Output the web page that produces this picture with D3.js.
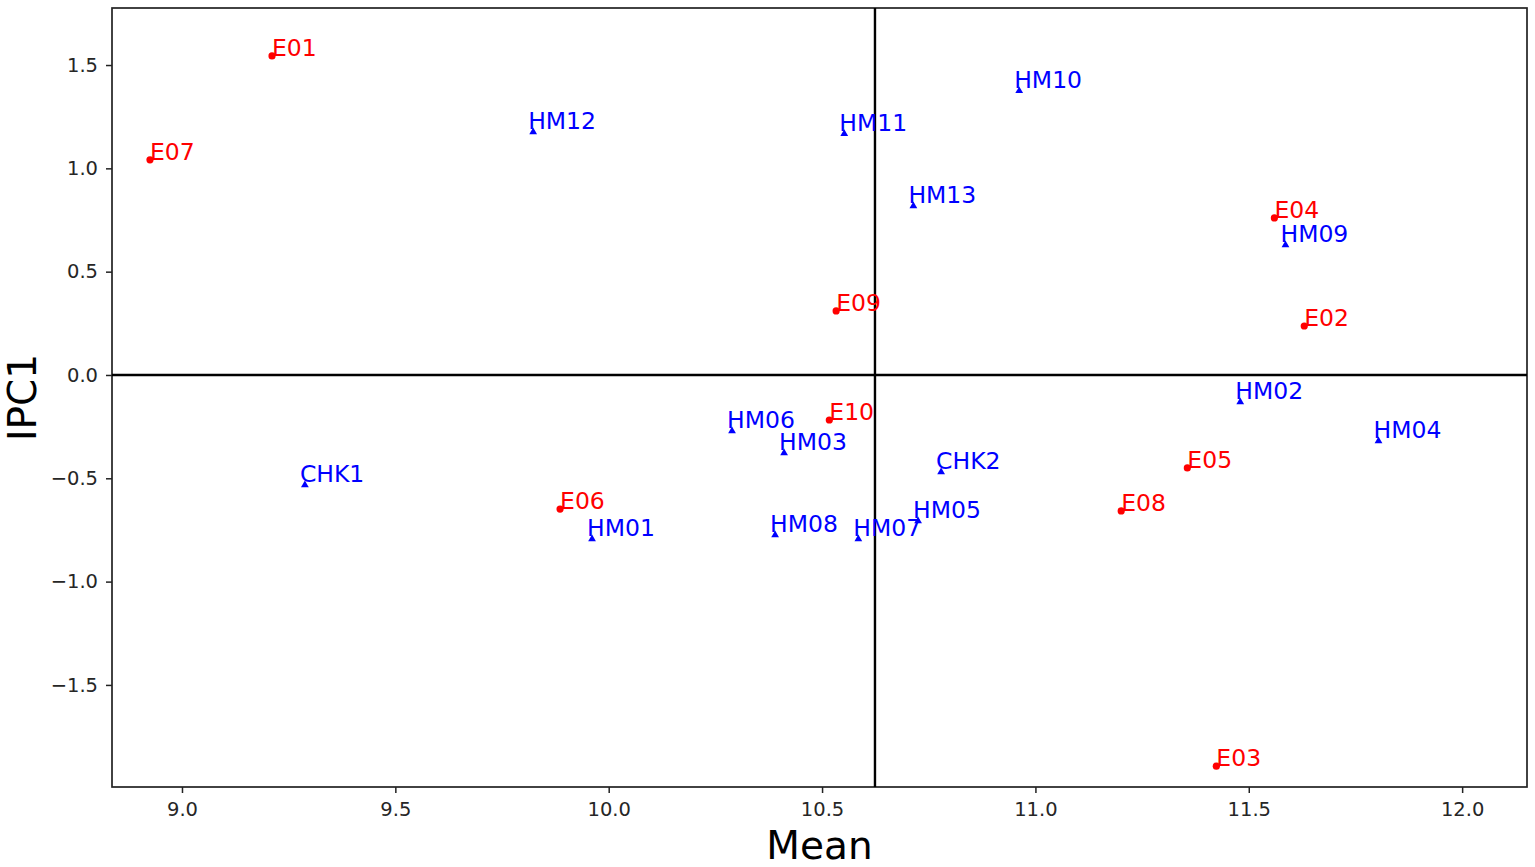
<!DOCTYPE html>
<html>
  <head>
    <meta charset="utf-8" />
    <script src="https://d3js.org/d3.v7.min.js"></script>
    <style>
      body {
        margin: 0;
        background: #fff;
        font-family: "DejaVu Sans", sans-serif;
      }
    </style>
    <title>AMMI biplot</title>
  </head>
  <body>
    <svg id="biplot" width="1535" height="867"></svg>

    <script>
      // environments (red dots)
      var envNames = ["E01", "E02", "E03", "E04", "E05", "E06", "E07", "E08", "E09", "E10"];
      var envMean = [9.211, 11.63, 11.424, 11.56, 11.356, 9.886, 8.925, 11.201, 10.533, 10.517];
      var envIPC1 = [1.544, 0.237, -1.893, 0.76, -0.45, -0.649, 1.041, -0.658, 0.31, -0.218];

      // genotypes (blue triangles)
      var genoNames = ["HM01", "HM02", "HM03", "HM04", "HM05", "HM06", "HM07", "HM08",
                       "HM09", "HM10", "HM11", "HM12", "HM13", "CHK1", "CHK2"];
      var genoMean = [9.961, 11.48, 10.411, 11.804, 10.725, 10.289, 10.585, 10.39,
                      11.586, 10.962, 10.552, 9.823, 10.714, 9.288, 10.779];
      var genoIPC1 = [-0.794, -0.131, -0.378, -0.319, -0.707, -0.271, -0.794, -0.774,
                      0.629, 1.375, 1.167, 1.176, 0.818, -0.532, -0.47];

      var grandMean = 10.624;
      var xTicks = [9.0, 9.5, 10.0, 10.5, 11.0, 11.5, 12.0];
      var yTicks = [-1.5, -1.0, -0.5, 0.0, 0.5, 1.0, 1.5];

      var canvas = d3.select("#biplot");
      var plotLeft = 112, plotRight = 1527, plotTop = 8, plotBottom = 787;

      var xScale = d3.scaleLinear().domain([8.836, 12.152]).range([plotLeft, plotRight]);
      var yScale = d3.scaleLinear().domain([-1.994, 1.776]).range([plotBottom, plotTop]);

      var fmt = d3.format(".1f");

      var xAxis = canvas
        .append("g")
        .attr("transform", "translate(0," + plotBottom + ")")
        .call(d3.axisBottom(xScale).tickValues(xTicks).tickFormat(fmt).tickSize(6).tickPadding(9));

      var yAxis = canvas
        .append("g")
        .attr("transform", "translate(" + plotLeft + ",0)")
        .call(d3.axisLeft(yScale).tickValues(yTicks).tickFormat(fmt).tickSize(6).tickPadding(8));

      [xAxis, yAxis].forEach(function (g) {
        g.select(".domain").remove();
        g.selectAll("line").style("stroke", "#222").style("stroke-width", "1.5px");
        g.selectAll("text")
          .style("font-family", "DejaVu Sans")
          .style("font-size", "19.5px")
          .style("fill", "#262626");
      });

      // frame
      canvas
        .append("rect")
        .attr("x", plotLeft)
        .attr("y", plotTop)
        .attr("width", plotRight - plotLeft)
        .attr("height", plotBottom - plotTop)
        .attr("fill", "none")
        .attr("stroke", "#222")
        .attr("stroke-width", 1.7);

      // reference lines: grand mean and IPC1 = 0
      canvas
        .append("line")
        .attr("x1", xScale(grandMean))
        .attr("x2", xScale(grandMean))
        .attr("y1", plotTop)
        .attr("y2", plotBottom)
        .attr("stroke", "#000")
        .attr("stroke-width", 2.4);

      canvas
        .append("line")
        .attr("x1", plotLeft)
        .attr("x2", plotRight)
        .attr("y1", yScale(0))
        .attr("y2", yScale(0))
        .attr("stroke", "#000")
        .attr("stroke-width", 2.4);

      var envData = envNames.map(function (n, i) {
        return { name: n, x: envMean[i], y: envIPC1[i] };
      });
      var genoData = genoNames.map(function (n, i) {
        return { name: n, x: genoMean[i], y: genoIPC1[i] };
      });

      var tri = d3.symbol().type(d3.symbolTriangle).size(26);

      canvas
        .selectAll(".geno")
        .data(genoData)
        .enter()
        .append("path")
        .attr("class", "geno")
        .attr("d", tri)
        .attr("transform", function (d) {
          return "translate(" + xScale(d.x) + "," + yScale(d.y) + ")";
        })
        .style("fill", "blue");

      canvas
        .selectAll(".env")
        .data(envData)
        .enter()
        .append("circle")
        .attr("class", "env")
        .attr("cx", function (d) { return xScale(d.x); })
        .attr("cy", function (d) { return yScale(d.y); })
        .attr("r", 3.6)
        .style("fill", "red");

      function labels(data, color, dx, dy) {
        canvas
          .append("g")
          .selectAll("text")
          .data(data)
          .enter()
          .append("text")
          .attr("x", function (d) { return xScale(d.x) + dx; })
          .attr("y", function (d) { return yScale(d.y) + dy; })
          .style("font-family", "DejaVu Sans")
          .style("font-size", "23.5px")
          .style("fill", color)
          .text(function (d) { return d.name; });
      }
      labels(genoData, "blue", -5, -3);
      labels(envData, "red", 0, 0);

      canvas
        .append("text")
        .attr("x", (plotLeft + plotRight) / 2)
        .attr("y", 859)
        .attr("text-anchor", "middle")
        .style("font-family", "DejaVu Sans")
        .style("font-size", "39px")
        .style("fill", "#000")
        .text("Mean");

      canvas
        .append("text")
        .attr("transform", "translate(36," + (plotTop + plotBottom) / 2 + ") rotate(-90)")
        .attr("text-anchor", "middle")
        .style("font-family", "DejaVu Sans")
        .style("font-size", "39px")
        .style("fill", "#000")
        .text("IPC1");
    </script>
  </body>
</html>
